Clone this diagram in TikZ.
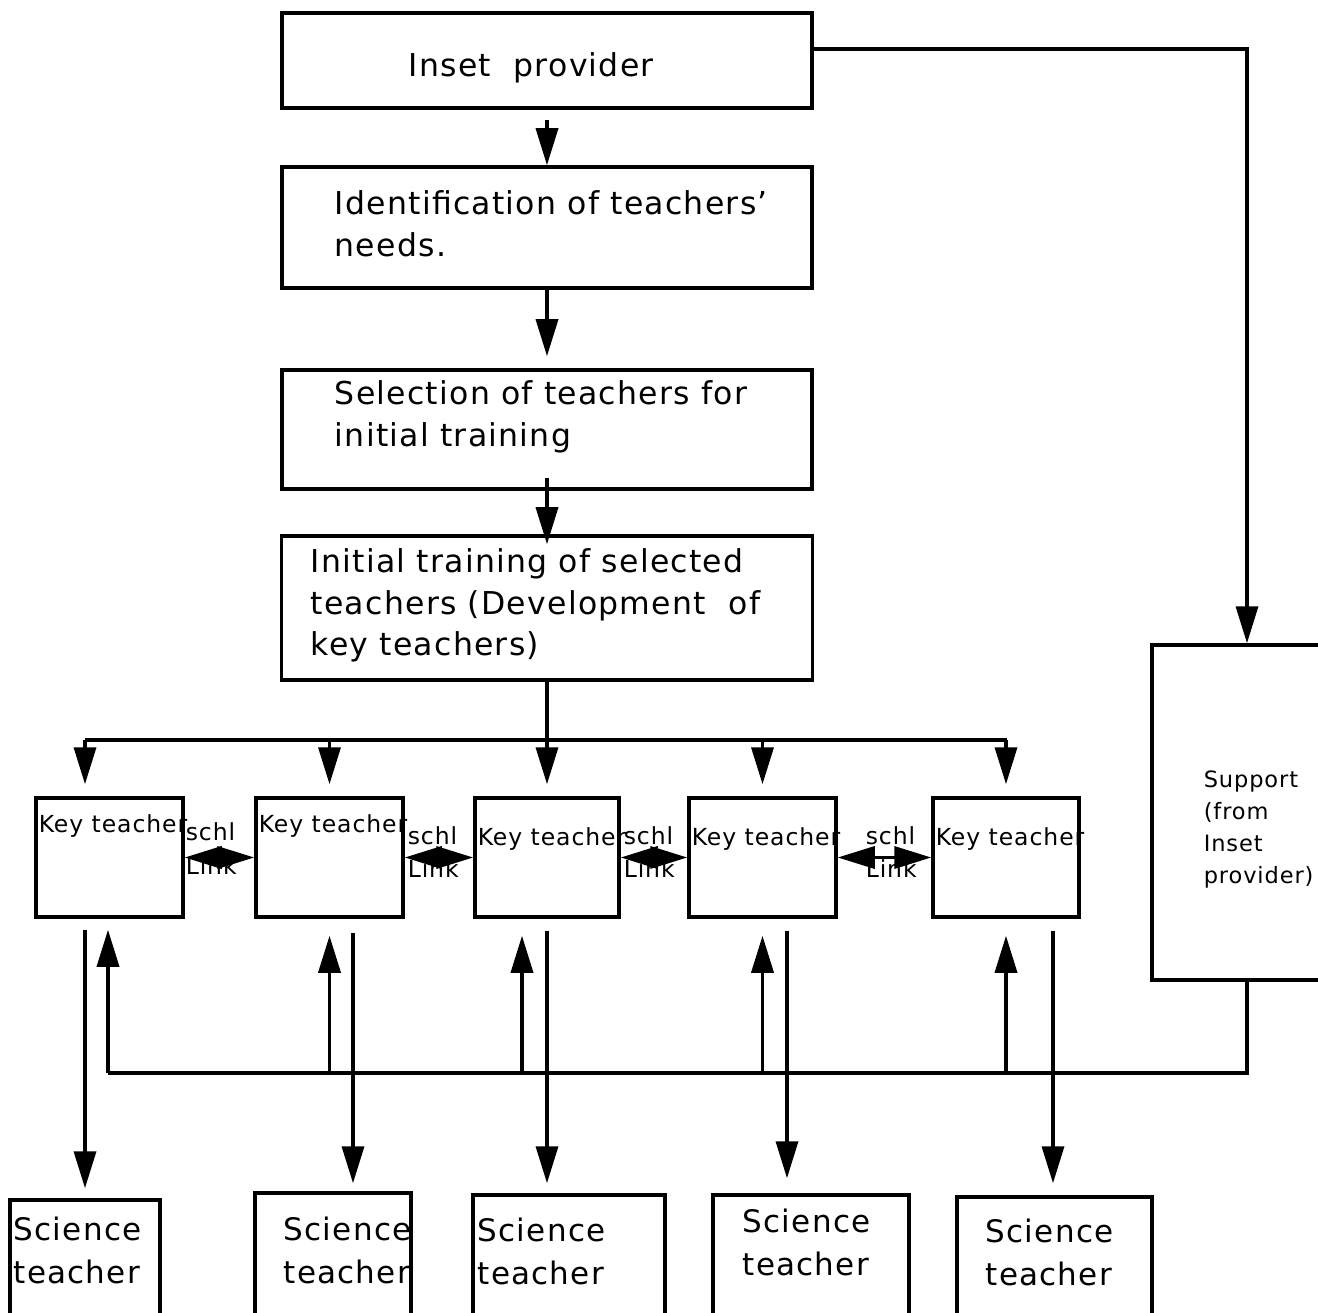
\documentclass[tikz,border=0pt]{standalone}
\usepackage{fontspec}
\setmainfont{DejaVu Sans}[LetterSpace=4]
\usetikzlibrary{arrows.meta,calc}
\begin{document}
\begin{tikzpicture}[x=1pt,y=-1pt,line width=3.5pt,
  box/.style={draw,rectangle,inner sep=0pt,line width=3.5pt},
  keybox/.style={box,minimum width=147pt,minimum height=119pt},
  arr/.style={-{Triangle[width=22pt,length=37pt]}},
  dblarr/.style={{Triangle[width=22pt,length=37pt]}-{Triangle[width=22pt,length=37pt]}},
  bigtxt/.style={anchor=base west,inner sep=0pt,font=\fontsize{31.5}{42}\selectfont},
  scitxt/.style={bigtxt,font=\fontsize{31}{43}\selectfont},
  keytxt/.style={anchor=base west,inner sep=0pt,font=\fontsize{23.5}{32}\selectfont},
  suptxt/.style={anchor=base west,inner sep=0pt,font=\fontsize{22.5}{32}\selectfont}]
\useasboundingbox (0,0) rectangle (1318,1313);
\clip (0,0) rectangle (1318,1313);

% main column of boxes
\node[box,minimum width=530pt,minimum height=95pt]  (inset)  at (547,60.5) {};
\node[box,minimum width=530pt,minimum height=121pt] (ident)  at (547,227.5) {};
\node[box,minimum width=530pt,minimum height=119pt] (select) at (547,429.5) {};
\node[box,minimum width=531pt,minimum height=144pt] (init)   at (547,608) {};

\node[bigtxt] (tinset) at (407,77) {Inset\ \ provider};
\node[bigtxt] (tident) at (333,215) {\begin{tabular}[t]{@{}l@{}}Identification of teachers'\\needs.\end{tabular}};
\node[bigtxt] (tselect) at (333,405) {\begin{tabular}[t]{@{}l@{}}Selection of teachers for\\initial training\end{tabular}};
\node[bigtxt] (tinit) at (309,572) {\begin{tabular}[t]{@{}l@{}}Initial training of selected\\teachers (Development\ \ of\\key teachers)\end{tabular}};

% support box on the right
\node[box,minimum width=190pt,minimum height=335pt] (support) at (1247,812.5) {};
\node[suptxt] (tsupport) at (1202,787) {\begin{tabular}[t]{@{}l@{}}Support\\(from\\Inset\\provider)\end{tabular}};

% key teachers
\node[keybox] (key1) at (109.5,857.5) {};
\node[keybox] (key2) at (329.5,857.5) {};
\node[keybox,minimum width=144pt] (key3) at (547,857.5) {};
\node[keybox] (key4) at (762.5,857.5) {};
\node[keybox,minimum width=146pt] (key5) at (1006,857.5) {};

\node[keytxt] (tkey1) at (37,832) {Key teacher};
\node[keytxt] (tkey2) at (257,832) {Key teacher};
\node[keytxt] (tkey3) at (476,845) {Key teacher};
\node[keytxt] (tkey4) at (690,845) {Key teacher};
\node[keytxt] (tkey5) at (934,845) {Key teacher};

\node[keytxt] (s12) at (184,840) {schl};
\node[keytxt] (l12) at (184,874) {Link};
\node[keytxt] (s23) at (406,844) {schl};
\node[keytxt] (l23) at (406,877) {Link};
\node[keytxt] (s34) at (622,844) {schl};
\node[keytxt] (l34) at (622,877) {Link};
\node[keytxt] (s45) at (864,844) {schl};
\node[keytxt] (l45) at (864,877) {Link};

% science teachers
\node[box,minimum width=150pt,minimum height=130pt] (sci1) at (85,1265) {};
\node[box,minimum width=156pt,minimum height=137pt] (sci2) at (333,1261.5) {};
\node[box,minimum width=192pt,minimum height=135pt] (sci3) at (569,1262.5) {};
\node[box,minimum width=196pt,minimum height=135pt] (sci4) at (811,1262.5) {};
\node[box,minimum width=195pt,minimum height=133pt] (sci5) at (1054.5,1263.5) {};

\node[scitxt] (tsci1) at (12,1240) {\begin{tabular}[t]{@{}l@{}}Science\\teacher\end{tabular}};
\node[scitxt] (tsci2) at (282,1240) {\begin{tabular}[t]{@{}l@{}}Science\\teacher\end{tabular}};
\node[scitxt] (tsci3) at (476,1241) {\begin{tabular}[t]{@{}l@{}}Science\\teacher\end{tabular}};
\node[scitxt] (tsci4) at (741,1232) {\begin{tabular}[t]{@{}l@{}}Science\\teacher\end{tabular}};
\node[scitxt] (tsci5) at (984,1242) {\begin{tabular}[t]{@{}l@{}}Science\\teacher\end{tabular}};

% flow down the main column
\draw[arr] ([yshift=-10pt]inset.south) -- (ident.north);
\draw[arr] (ident.south) -- ([yshift=12pt]select.north);
\draw[arr] ([yshift=13pt]select.south) -- ([yshift=-10pt]init.north);
\draw[arr] (init.south) -- ([yshift=12pt]key3.north);

% distribution bar to the key teachers
\coordinate (busL) at (85,740);
\coordinate (busR) at (1007,740);
\draw (busL) -- (busR);
\draw[arr] (busL) -- ($(key1.north)+(-24.5,-12)$);
\draw[arr] (key2.north |- busL) -- ([yshift=12pt]key2.north);
\draw[arr] (key4.north |- busL) -- ([yshift=12pt]key4.north);
\draw[arr] (key5.north |- busL) -- ([yshift=12pt]key5.north);

% support from the inset provider
\draw[arr] ([yshift=11.5pt]inset.east) -| (support.north);

% support fed back to the key teachers
\coordinate (fbL) at (108,1073);
\coordinate (up3) at ($(key3.south)+(-25,0)$);
\draw (support.south) |- (fbL);
\draw[arr] (fbL) -- ($(key1.south)+(-1.5,11)$);
\draw[arr] (key2.south |- fbL) -- ([yshift=-17pt]key2.south);
\draw[arr] (up3 |- fbL) -- ($(up3)+(0,17)$);
\draw[arr] (key4.south |- fbL) -- ([yshift=-17pt]key4.south);
\draw[arr] (key5.south |- fbL) -- ([yshift=-17pt]key5.south);

% key teachers to science teachers
\draw[arr] ($(key1.south)+(-24.5,11)$) -- ([yshift=10pt]sci1.north);
\draw[arr] ($(key2.south)+(23.5,14)$) -- ($(sci2.north)+(20,-8)$);
\draw[arr] ($(key3.south)+(0,12)$) -- ($(sci3.north)+(-22,-10)$);
\draw[arr] ($(key4.south)+(24.5,12)$) -- ($(sci4.north)+(-24,-15)$);
\draw[arr] ($(key5.south)+(47,12)$) -- ($(sci5.north)+(-1.5,-12)$);

% school links between key teachers
\draw[dblarr] (key1.east) -- (key2.west);
\draw[dblarr] (key2.east) -- (key3.west);
\draw[dblarr] (key3.east) -- (key4.west);
\draw[dblarr] (key4.east) -- (key5.west);
\end{tikzpicture}
\end{document}
